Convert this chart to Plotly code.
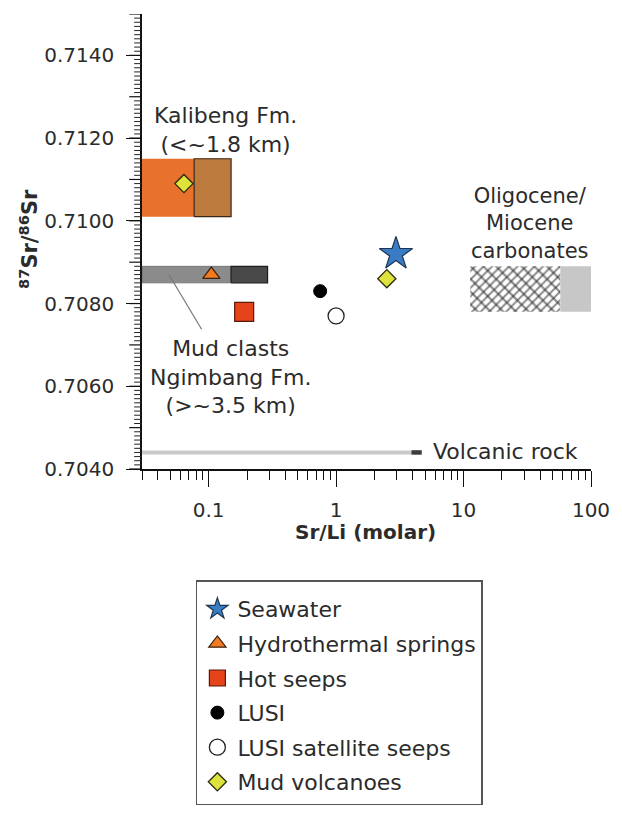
import numpy as np
import plotly.graph_objects as go

# ---- data -------------------------------------------------------------
# Point samples: Sr/Li (molar) and 87Sr/86Sr
SEAWATER_X, SEAWATER_Y = [2.95], [0.7092]
HYDRO_X, HYDRO_Y = [0.105], [0.7087]
HOTSEEP_X, HOTSEEP_Y = [0.19], [0.7078]
LUSI_X, LUSI_Y = [0.75], [0.7083]
LUSI_SAT_X, LUSI_SAT_Y = [1.0], [0.7077]
MUDVOLC_X, MUDVOLC_Y = [0.064, 2.5], [0.7109, 0.7086]

# Formation ranges (Sr/Li bounds, 87Sr/86Sr bounds)
KALIBENG_X = [0.03, 0.077, 0.15]
KALIBENG_Y = [0.7101, 0.7115]
NGIMBANG_X = [0.03, 0.15, 0.29]
NGIMBANG_Y = [0.7085, 0.7089]
CARBONATE_X = [11.3, 57.5, 100]
CARBONATE_Y = [0.7078, 0.7089]
VOLCANIC_X = [0.03, 3.9, 4.7]
VOLCANIC_Y = [0.7044]

# Leader line for the Ngimbang label
LEADER_X = [0.049, 0.088]
LEADER_Y = [0.70869, 0.70738]

# Axis ticks
Y_RANGE = [0.704, 0.715]
Y_MID_STEP = 0.001     # unlabelled intermediate ticks
Y_FINE_STEP = 0.0001   # fine ruler ticks
X_TICKVALS = [0.1, 1, 10, 100]
X_TICKTEXT = ["0.1", "1", "10", "100"]
X_MINOR = [0.03, 0.04, 0.05, 0.06, 0.07, 0.08, 0.09,
           0.2, 0.3, 0.4, 0.5, 0.6, 0.7, 0.8, 0.9,
           2, 3, 4, 5, 6, 7, 8, 9,
           20, 30, 40, 50, 60, 70, 80, 90]

FONT = "DejaVu Sans"
TXT = "#2b2b2b"
PLOT_W = 458  # plot-area width in px (622 - 142 - 22)


def rect(x0, x1, y0, y1):
    return [x0, x1, x1, x0, x0], [y0, y0, y1, y1, y0]


fig = go.Figure()


def add_box(x0, x1, y0, y1, fill, line_color=None, line_width=0, pattern=None):
    xs, ys = rect(x0, x1, y0, y1)
    kw = {}
    if pattern:
        kw["fillpattern"] = pattern
    fig.add_trace(go.Scatter(
        x=xs, y=ys, mode="lines", fill="toself", fillcolor=fill,
        line=dict(color=line_color or fill, width=line_width),
        hoverinfo="skip", showlegend=False, **kw))


# Kalibeng Fm. range
add_box(KALIBENG_X[0], KALIBENG_X[1], KALIBENG_Y[0], KALIBENG_Y[1], "#e8712e")
add_box(KALIBENG_X[1], KALIBENG_X[2], KALIBENG_Y[0], KALIBENG_Y[1], "#bd7a3d",
        "#3a2616", 1.2)

# Ngimbang Fm. mud clasts range
add_box(NGIMBANG_X[0], NGIMBANG_X[1], NGIMBANG_Y[0], NGIMBANG_Y[1], "#8b8b8b",
        "#6a6a6a", 0.8)
add_box(NGIMBANG_X[1], NGIMBANG_X[2], NGIMBANG_Y[0], NGIMBANG_Y[1], "#494949",
        "#1e1e1e", 1.2)

# Oligocene/Miocene carbonates: brick-like hatched block plus grey block
clear = "rgba(255,255,255,0)"
add_box(CARBONATE_X[0], CARBONATE_X[1], CARBONATE_Y[0], CARBONATE_Y[1],
        clear, clear, 0,
        pattern=dict(shape="/", fgcolor="#1e1e1e", bgcolor="white",
                     size=6, solidity=0.35))
add_box(CARBONATE_X[0], CARBONATE_X[1], CARBONATE_Y[0], CARBONATE_Y[1],
        clear, clear, 0,
        pattern=dict(shape="\\", fgcolor="#1e1e1e", bgcolor=clear,
                     size=9, solidity=0.25))
add_box(CARBONATE_X[1], CARBONATE_X[2], CARBONATE_Y[0], CARBONATE_Y[1], "#c7c7c7")

# Volcanic rock range
fig.add_trace(go.Scatter(
    x=VOLCANIC_X[:2], y=VOLCANIC_Y * 2, mode="lines",
    line=dict(color="#c9c9c9", width=4), hoverinfo="skip", showlegend=False))
fig.add_trace(go.Scatter(
    x=VOLCANIC_X[1:], y=VOLCANIC_Y * 2, mode="lines",
    line=dict(color="#3c3c3c", width=4.5), hoverinfo="skip", showlegend=False))

# Leader line
fig.add_trace(go.Scatter(
    x=LEADER_X, y=LEADER_Y, mode="lines",
    line=dict(color="#777777", width=1.2), hoverinfo="skip", showlegend=False))

# Sample markers
series = [
    ("Seawater", SEAWATER_X, SEAWATER_Y,
     dict(symbol="star", size=25, color="#3a7cc3", line=dict(color="#1d3550", width=1.2))),
    ("Hydrothermal springs", HYDRO_X, HYDRO_Y,
     dict(symbol="triangle-up", size=15, color="#f47a1f", line=dict(color="#3a2010", width=1.2))),
    ("Hot seeps", HOTSEEP_X, HOTSEEP_Y,
     dict(symbol="square", size=19, color="#e5431a", line=dict(color="#5a1a0a", width=1.2))),
    ("LUSI", LUSI_X, LUSI_Y,
     dict(symbol="circle", size=13, color="#000000", line=dict(color="#000000", width=1))),
    ("LUSI satellite seeps", LUSI_SAT_X, LUSI_SAT_Y,
     dict(symbol="circle", size=16, color="#ffffff", line=dict(color="#222222", width=1.3))),
    ("Mud volcanoes", MUDVOLC_X, MUDVOLC_Y,
     dict(symbol="diamond", size=14, color="#dde23c", line=dict(color="#2a2a10", width=1.3))),
]
for i, (name, xs, ys, marker) in enumerate(series):
    fig.add_trace(go.Scatter(
        x=xs, y=ys, mode="markers", name=name, marker=marker,
        legendgroup=f"g{i}", showlegend=True))

# Ruler-style y ticks: fine every 0.0001, longer every 0.001
n_fine = int(round((Y_RANGE[1] - Y_RANGE[0]) / Y_FINE_STEP))
for k in range(n_fine + 1):
    yv = Y_RANGE[0] + k * Y_FINE_STEP
    is_mid = k % int(round(Y_MID_STEP / Y_FINE_STEP)) == 0
    length = 13 if is_mid else 8
    fig.add_shape(
        type="line", xref="paper", yref="y",
        x0=-length / PLOT_W, x1=0, y0=yv, y1=yv,
        line=dict(color="#111" if is_mid else "#222", width=1.2 if is_mid else 1))


# Text labels
def label(text, xval, yval, xanchor="center", size=22):
    fig.add_annotation(
        x=np.log10(xval), y=yval, xref="x", yref="y", text=text,
        showarrow=False, xanchor=xanchor, yanchor="middle", align="center",
        font=dict(family=FONT, size=size, color=TXT))


label("Kalibeng Fm.<br>(<~1.8 km)", 0.135, 0.71219)
label("Mud clasts<br>Ngimbang Fm.<br>(>~3.5 km)", 0.148, 0.70623)
label("Oligocene/<br>Miocene<br>carbonates", 33.4, 0.70994, size=21)
label("Volcanic rock", 5.6, 0.70442, xanchor="left")

# Axis titles
fig.add_annotation(
    x=-0.252, y=0.505, xref="paper", yref="paper", textangle=-90,
    text="<b><sup>87</sup>Sr/<sup>86</sup>Sr</b>", showarrow=False,
    xanchor="center", yanchor="middle",
    font=dict(family=FONT, size=21, color=TXT))
fig.add_annotation(
    x=0.498, y=-0.138, xref="paper", yref="paper",
    text="<b>Sr/Li (molar)</b>", showarrow=False,
    xanchor="center", yanchor="middle",
    font=dict(family=FONT, size=20, color=TXT))

fig.update_layout(
    xaxis=dict(
        type="log", range=[np.log10(0.03), 2],
        tickmode="array", tickvals=X_TICKVALS, ticktext=X_TICKTEXT,
        ticks="outside", ticklen=16, tickwidth=1.3, tickcolor="#111",
        ticklabelstandoff=6,
        minor=dict(tickmode="array", tickvals=X_MINOR, ticks="outside",
                   ticklen=9, tickwidth=1.2, tickcolor="#111"),
        showline=True, linecolor="#111", linewidth=1.5,
        showgrid=False, zeroline=False,
        tickfont=dict(family=FONT, size=20, color=TXT)),
    yaxis=dict(
        range=Y_RANGE,
        tickmode="linear", tick0=0.704, dtick=0.002, tickformat=".4f",
        ticks="outside", ticklen=14, tickwidth=1.3, tickcolor="#111",
        ticklabelstandoff=8,
        showline=True, linecolor="#111", linewidth=1.5,
        showgrid=False, zeroline=False,
        tickfont=dict(family=FONT, size=20, color=TXT)),
    width=622, height=817,
    margin=dict(l=142, r=22, t=14, b=344),
    paper_bgcolor="white", plot_bgcolor="white",
    font=dict(family=FONT, color=TXT),
    legend=dict(
        x=0.12, y=-0.244, xanchor="left", yanchor="top",
        bgcolor="white", bordercolor="#555555", borderwidth=1.5,
        font=dict(family=FONT, size=22, color=TXT),
        title=dict(text="&nbsp;", font=dict(size=5)),
        traceorder="grouped", tracegroupgap=3,
        itemclick=False),
)

fig.write_html("out.html")
